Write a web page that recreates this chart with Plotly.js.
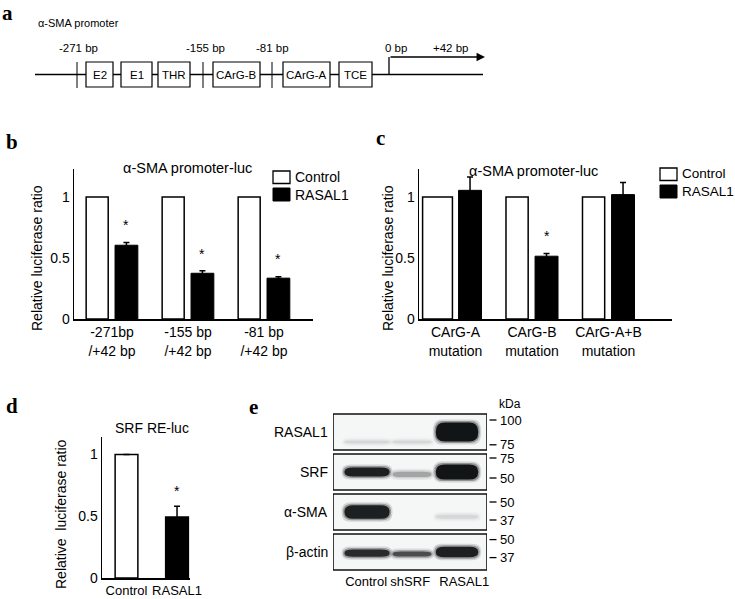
<!DOCTYPE html>
<html>
<head>
<meta charset="utf-8">
<script src="https://cdn.plot.ly/plotly-3.0.1.min.js"></script>
<style>
    html, body { margin: 0; padding: 0; background: #fff; }
    #fig { width: 735px; height: 599px; }
</style>
</head>
<body>
<div id="fig"></div>
<script>
// a : promoter map (diagram units)
const promoterBoxes = ['E2', 'E1', 'THR', 'CArG-B', 'CArG-A', 'TCE'];
const boxStart = [86, 121, 158, 213, 283, 339];
const boxEnd = [113, 152, 190, 260, 330, 372];
const bpLabels = ['-271 bp', '-155 bp', '-81 bp', '0 bp', '+42 bp'];
const bpLabelPos = [78, 205, 272, 396, 451];
const cutSites = [77, 203, 272];
const tssPos = 389;
const mapEnd = 483;

// b : deletion constructs
const bGroups = ['-271bp<br>/+42 bp', '-155 bp<br>/+42 bp', '-81 bp<br>/+42 bp'];
const bControl = [1, 1, 1];
const bRasal = [0.605, 0.375, 0.335];
const bRasalErr = [0.022, 0.02, 0.011];
const bSig = [true, true, true];

// c : CArG mutants
const cGroups = ['CArG-A<br>mutation', 'CArG-B<br>mutation', 'CArG-A+B<br>mutation'];
const cControl = [1, 1, 1];
const cRasal = [1.055, 0.515, 1.02];
const cRasalErr = [0.11, 0.022, 0.1];
const cSig = [false, true, false];

// d : SRF RE-luc
const dGroups = ['Control', 'RASAL1'];
const dValues = [1, 0.495];
const dErr = [0, 0.087];
const dSig = [false, true];

// e : western blot, per lane band density (0-1) and band thickness (fraction of a strip)
const blotRows = ['RASAL1', 'SRF', 'α-SMA', 'β-actin'];
const blotLanes = ['Control', 'shSRF', 'RASAL1'];
const bandDensity = [
    [0.12, 0.12, 1.0],
    [0.95, 0.35, 1.0],
    [0.95, 0, 0.12],
    [0.9, 0.75, 0.95]
];
const bandThickness = [
    [0.07, 0.07, 0.48],
    [0.22, 0.13, 0.38],
    [0.34, 0, 0.1],
    [0.18, 0.13, 0.26]
];
const markerRow = [0, 0, 1, 1, 2, 2, 3, 3];
const markerKDa = ['100', '75', '75', '50', '50', '37', '50', '37'];

(function () {
    const W = 735, H = 599;
    const px = v => v / W;
    const py = v => 1 - v / H;
    const FONT = 'Liberation Sans, Arial, sans-serif';

    const traces = [];
    const shapes = [];
    const annotations = [];

    function text(t, x, y, size, opts) {
        annotations.push(Object.assign({
            text: t, x: x, y: y, xref: 'paper', yref: 'paper',
            showarrow: false, font: { family: FONT, size: size, color: '#000' },
            xanchor: 'center', yanchor: 'middle'
        }, opts || {}));
    }

    // panel letters
    [['a', 8, 13], ['b', 12, 142], ['c', 380, 138], ['d', 12, 406], ['e', 253, 407]].forEach(l => {
        text('<b>' + l[0] + '</b>', px(l[1]), py(l[2]), 21,
            { font: { family: 'Liberation Serif, serif', size: 21, color: '#000' } });
    });

    // ---------- a ----------
    const aLine = { color: '#000', width: 1.3 };
    shapes.push({ type: 'line', xref: 'x4', yref: 'y4', x0: 35, x1: mapEnd, y0: 74.5, y1: 74.5, line: aLine });
    cutSites.forEach(s => shapes.push({ type: 'line', xref: 'x4', yref: 'y4', x0: s, x1: s, y0: 62, y1: 88, line: { color: '#000', width: 1 } }));
    promoterBoxes.forEach((b, i) => {
        shapes.push({ type: 'rect', xref: 'x4', yref: 'y4', x0: boxStart[i], x1: boxEnd[i], y0: 62, y1: 87,
            fillcolor: '#fff', line: { color: '#000', width: 1.2 } });
        annotations.push({ text: b, xref: 'x4', yref: 'y4', x: (boxStart[i] + boxEnd[i]) / 2, y: 75,
            showarrow: false, font: { family: FONT, size: 11.5, color: '#000' } });
    });
    bpLabels.forEach((b, i) => annotations.push({ text: b, xref: 'x4', yref: 'y4', x: bpLabelPos[i], y: 48,
        showarrow: false, font: { family: FONT, size: 11.5, color: '#000' } }));
    annotations.push({ text: 'α-SMA promoter', xref: 'x4', yref: 'y4', x: 36, y: 23, xanchor: 'left',
        showarrow: false, font: { family: FONT, size: 11, color: '#000' } });
    shapes.push({ type: 'line', xref: 'x4', yref: 'y4', x0: tssPos, x1: tssPos, y0: 74.5, y1: 57, line: aLine });
    annotations.push({ text: '', xref: 'x4', yref: 'y4', axref: 'x4', ayref: 'y4', x: mapEnd + 2, y: 57,
        ax: tssPos, ay: 57, showarrow: true, arrowhead: 2, arrowsize: 1.3, arrowwidth: 1.3, arrowcolor: '#000' });

    // ---------- bar panels ----------
    function barPanel(xa, ya, cats, ctrl, ras, err, sig, ctrlOffset, ctrlWidth, rasOffset, rasWidth) {
        traces.push({
            type: 'bar', x: cats, y: ctrl, xaxis: xa, yaxis: ya, name: 'Control',
            offset: ctrlOffset, width: ctrlWidth,
            marker: { color: '#fff', line: { color: '#000', width: 1.5 } }
        });
        traces.push({
            type: 'bar', x: cats, y: ras, xaxis: xa, yaxis: ya, name: 'RASAL1',
            offset: rasOffset, width: rasWidth,
            marker: { color: '#000', line: { color: '#000', width: 1 } },
            error_y: { type: 'data', array: err, color: '#000', thickness: 1.5, width: 3 }
        });
        sig.forEach((s, i) => {
            if (!s) return;
            annotations.push({ text: '*', xref: xa, yref: ya, x: i + rasOffset + rasWidth / 2,
                y: ras[i] + err[i] + 0.06, yanchor: 'bottom', showarrow: false,
                font: { family: FONT, size: 14, color: '#000' } });
        });
    }

    // b
    barPanel('x', 'y', bGroups, bControl, bRasal, bRasalErr, bSig, -0.34, 0.29, 0.04, 0.3);
    // c
    barPanel('x2', 'y2', cGroups, cControl, cRasal, cRasalErr, cSig,
        [-0.43, -0.34, -0.34], [0.39, 0.29, 0.29], 0.04, 0.3);
    // d (single series, different fill per bar)
    traces.push({
        type: 'bar', x: dGroups, y: dValues, xaxis: 'x3', yaxis: 'y3', width: 0.45,
        marker: { color: ['#fff', '#000'], line: { color: '#000', width: 1.5 } },
        error_y: { type: 'data', array: dErr, color: '#000', thickness: 1.5, width: 3 }
    });
    dSig.forEach((s, i) => {
        if (!s) return;
        annotations.push({ text: '*', xref: 'x3', yref: 'y3', x: i, y: dValues[i] + dErr[i] + 0.04,
            yanchor: 'bottom', showarrow: false, font: { family: FONT, size: 14, color: '#000' } });
    });

    // titles, y titles, legends
    text('α-SMA promoter-luc', px(187), py(168), 14.5);
    text('α-SMA promoter-luc', px(533), py(171), 14.5);
    text('SRF RE-luc', px(152), py(428), 14);
    text('Relative luciferase ratio', px(37), py(258), 14, { textangle: -90 });
    text('Relative luciferase ratio', px(388), py(258), 14, { textangle: -90 });
    text('Relative\u00a0 luciferase ratio', px(61), py(514), 14, { textangle: -90 });

    function legend(x, y, size) {
        shapes.push({ type: 'rect', xref: 'paper', yref: 'paper', x0: px(x), x1: px(x + 17), y0: py(y), y1: py(y + 12.5),
            fillcolor: '#fff', line: { color: '#000', width: 1.3 } });
        shapes.push({ type: 'rect', xref: 'paper', yref: 'paper', x0: px(x), x1: px(x + 17), y0: py(y + 17), y1: py(y + 30),
            fillcolor: '#000', line: { color: '#000', width: 1 } });
        text('Control', px(x + 19.5), py(y + 6), size, { xanchor: 'left' });
        text('RASAL1', px(x + 19.5), py(y + 23.5), size, { xanchor: 'left' });
    }
    legend(273, 171, 14);
    legend(660, 168, 13.5);

    // ---------- e : blot ----------
    const LANE_PX = 45, ROW_PX = 40;
    const laneHalf = [0.5, 0.43, 0.47];
    const bandShift = [[0.25, 0.25, 0], [0, 0.06, 0], [0, 0, 0.12], [0.03, 0.05, 0]];
    const markerShift = [-0.3, 0.32, -0.35, 0.15, -0.25, 0.2, -0.31, 0.14];

    function rounded(xc, hw, yc, hh, rx, ry) {
        const l = xc - hw, r = xc + hw, t = yc - hh, b = yc + hh;
        return 'M' + (l + rx) + ',' + t + ' L' + (r - rx) + ',' + t +
            ' Q' + r + ',' + t + ' ' + r + ',' + (t + ry) + ' L' + r + ',' + (b - ry) +
            ' Q' + r + ',' + b + ' ' + (r - rx) + ',' + b + ' L' + (l + rx) + ',' + b +
            ' Q' + l + ',' + b + ' ' + l + ',' + (b - ry) + ' L' + l + ',' + (t + ry) +
            ' Q' + l + ',' + t + ' ' + (l + rx) + ',' + t + ' Z';
    }

    blotRows.forEach((row, r) => {
        shapes.push({ type: 'rect', xref: 'x5', yref: 'y5', x0: -0.756, x1: 2.667, y0: r - 0.45, y1: r + 0.45,
            fillcolor: '#f5f6f6', line: { color: '#111', width: 1.6 }, layer: 'below' });
        annotations.push({ text: row, xref: 'paper', yref: 'y5', x: px(330), y: r, xanchor: 'right',
            showarrow: false, font: { family: FONT, size: 14, color: '#000' } });
        bandDensity[r].forEach((dens, lane) => {
            if (dens <= 0) return;
            const g = Math.round(240 - dens * 222);
            const col = 'rgb(' + g + ',' + (g + 3) + ',' + (g + 4) + ')';
            const hh = bandThickness[r][lane] / 2;
            const yc = r + bandShift[r][lane];
            [[3, 0.15], [1.5, 0.35], [0, 1]].forEach(layer => {
                const gx = layer[0] / LANE_PX, gy = layer[0] / ROW_PX;
                const hw = laneHalf[lane] + gx, h = hh + gy;
                shapes.push({ type: 'path', xref: 'x5', yref: 'y5',
                    path: rounded(lane, hw, yc, h, Math.min(0.2, hw), h * 0.9),
                    fillcolor: col, opacity: layer[1], line: { width: 0 }, layer: 'below' });
            });
        });
    });
    markerRow.forEach((r, i) => {
        const y = r + markerShift[i];
        shapes.push({ type: 'line', xref: 'paper', yref: 'y5', x0: px(489.5), x1: px(496.5), y0: y, y1: y,
            line: { color: '#000', width: 1.3 } });
        annotations.push({ text: markerKDa[i], xref: 'paper', yref: 'y5', x: px(498), y: y, xanchor: 'left',
            showarrow: false, font: { family: FONT, size: 13, color: '#000' } });
    });
    text('kDa', px(497), py(404), 12, { xanchor: 'left' });

    const hidden = { visible: false, fixedrange: true };
    const valAxis = (top, bottom, maxV) => ({
        domain: [py(bottom), py(top)], range: [0, maxV], showline: true, linewidth: 1.5, linecolor: '#000',
        ticks: '', showgrid: false, zeroline: false, tickvals: [0, 0.5, 1], ticktext: ['0', '0.5', '1'],
        tickfont: { family: FONT, size: 14, color: '#000' }
    });
    const catAxis = (left, right, lo, hi, size) => ({
        domain: [px(left), px(right)], range: [lo, hi], showline: true, linewidth: 1.5, linecolor: '#000',
        ticks: '', tickangle: 0, showgrid: false, zeroline: false,
        tickfont: { family: FONT, size: size || 14, color: '#000' }
    });

    const layout = {
        width: W, height: H,
        margin: { l: 0, r: 0, t: 0, b: 0 },
        paper_bgcolor: '#fff', plot_bgcolor: 'rgba(0,0,0,0)',
        showlegend: false, barmode: 'overlay',
        font: { family: FONT, color: '#000' },
        xaxis: catAxis(74, 313, -0.5, 2.645),
        yaxis: valAxis(169, 319, 1.23),
        xaxis2: catAxis(419, 672, -0.477, 2.83),
        yaxis2: valAxis(169, 319, 1.23),
        xaxis3: catAxis(102, 190, -0.485, 1.257, 13),
        yaxis3: valAxis(437, 578, 1.142),
        xaxis4: Object.assign({ domain: [0, 1], range: [0, W], anchor: 'y4' }, hidden),
        yaxis4: Object.assign({ domain: [py(100), 1], range: [100, 0], anchor: 'x4' }, hidden),
        xaxis5: { domain: [px(333), px(487)], range: [-0.756, 2.667], anchor: 'y5', showline: false, showgrid: false,
            zeroline: false, ticks: '', tickangle: 0, tickvals: [-0.02, 0.96, 2.16], ticktext: blotLanes,
            tickfont: { family: FONT, size: 13, color: '#000' } },
        yaxis5: { domain: [py(572), py(412)], range: [3.5, -0.5], anchor: 'x5', visible: false },
        shapes: shapes,
        annotations: annotations
    };
    ['xaxis', 'xaxis2', 'xaxis3'].forEach((k, i) => { layout[k].anchor = 'y' + (i ? i + 1 : ''); });
    ['yaxis', 'yaxis2', 'yaxis3'].forEach((k, i) => { layout[k].anchor = 'x' + (i ? i + 1 : ''); });

    Plotly.newPlot('fig', traces, layout, { displayModeBar: false, staticPlot: true });
})();
</script>
</body>
</html>
